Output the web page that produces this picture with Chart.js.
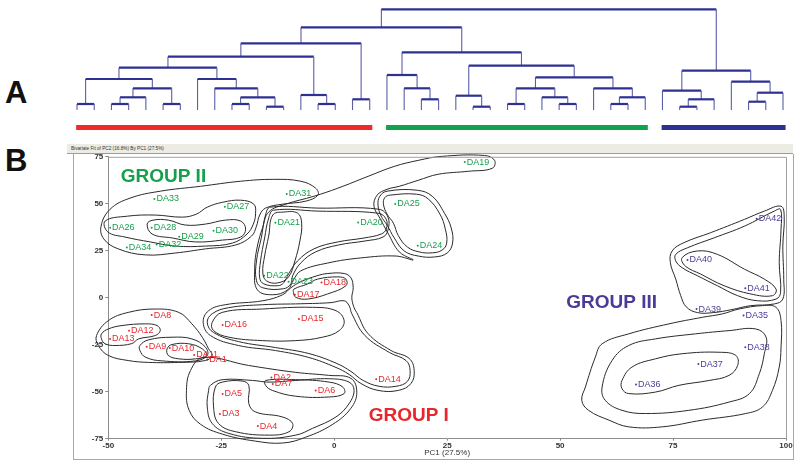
<!DOCTYPE html>
<html>
<head>
<meta charset="utf-8">
<script src="https://cdn.jsdelivr.net/npm/chart.js@4.4.1/dist/chart.umd.min.js"></script>
<style>
  html, body { margin: 0; padding: 0; background: #fff; }
  body { width: 800px; height: 467px; position: relative; overflow: hidden; font-family: Arial, "Liberation Sans", sans-serif; }
  .panel-letter { position: absolute; font-weight: bold; font-size: 31px; line-height: 30px; color: #111; }
  #titleBar { position: absolute; left: 67px; top: 144px; width: 726px; height: 9px; background: #ecebe4; border-bottom: 1px solid #9c9c9c; overflow: hidden; }
  #titleBar span { position: absolute; left: 4px; top: 0; font-size: 9px; line-height: 9px; color: #333; white-space: nowrap; transform: scale(0.52); transform-origin: left center; }
  #frame { position: absolute; left: 73px; top: 154px; width: 719px; height: 305px; border: 1px solid #a8a8a8; border-top: none; }
  canvas { position: absolute; }
</style>
</head>
<body>
<div class="panel-letter" style="left:5px; top:78px;">A</div>
<div class="panel-letter" style="left:5px; top:146px;">B</div>
<div id="titleBar"><span>Bivariate Fit of PC2 (16.8%) By PC1 (27.5%)</span></div>
<div id="frame"></div>
<canvas id="dendro" width="800" height="140" style="left:0; top:0;"></canvas>
<canvas id="pca" width="720" height="310" style="left:73px; top:150px;"></canvas>
<script>
// ---- dendrogram (panel A) ----
const leafCount = 42;
// [left child, right child, height]; ids >= 42 are earlier merges
const merges = [
  [0, 1, 6], [2, 3, 6], [43, 4, 12.7], [5, 6, 6], [44, 45, 21.7], [42, 46, 31],
  [9, 10, 6], [11, 12, 3.3], [48, 49, 12.7], [8, 50, 21.7], [7, 51, 31], [47, 52, 42.3],
  [14, 15, 6], [13, 54, 15], [53, 55, 53.3], [16, 17, 10.7], [56, 57, 66.7],
  [20, 21, 10.7], [19, 59, 21.7], [18, 60, 35], [23, 24, 3.3], [22, 62, 14.3],
  [25, 26, 6], [28, 29, 6], [27, 65, 12.7], [64, 66, 21.7], [31, 32, 6], [68, 33, 12.7],
  [30, 69, 21.7], [67, 70, 32.7], [63, 71, 44.3], [61, 72, 57.7], [58, 73, 82.7],
  [35, 36, 3.3], [75, 37, 10.7], [34, 76, 19.3], [39, 40, 8.3], [78, 41, 17.3],
  [38, 79, 28.3], [77, 80, 39.3], [74, 81, 100.7]
];
const groupSizes = [18, 16, 8];
const groupNames = ['GROUP I', 'GROUP II', 'GROUP III'];
const groupColors = ['#e8262c', '#17a04c', '#4b3b98'];
const barColors = ['#ee2b2b', '#12a24c', '#2e3192'];

// ---- PCA scores (panel B) ----
const pointNames = [
  'DA1', 'DA2', 'DA3', 'DA4', 'DA5', 'DA6', 'DA7', 'DA8', 'DA9', 'DA10', 'DA11', 'DA12', 'DA13', 'DA14',
  'DA15', 'DA16', 'DA17', 'DA18', 'DA19', 'DA20', 'DA21', 'DA22', 'DA23', 'DA24', 'DA25', 'DA26', 'DA27',
  'DA28', 'DA29', 'DA30', 'DA31', 'DA32', 'DA33', 'DA34', 'DA35', 'DA36', 'DA37', 'DA38', 'DA39', 'DA40',
  'DA41', 'DA42'
];
const pc1 = [
  -28.1, -13.9, -25.3, -16.9, -24.7, -4.1, -13.6, -40.4, -41.5, -36.4, -31.0, -45.4, -49.6, 9.3, -7.8, -24.7, -8.7, -2.8,
  28.9, 5.3, -13.0, -15.5, -10.1, 18.5, 13.5, -49.6, -24.2, -40.4, -34.3, -26.7, -10.5, -39.3, -39.8, -45.9,
  90.6, 66.8, 80.6, 91.0, 80.2, 78.2, 91.0, 93.5
];
const pc2 = [
  -32.8, -42.5, -61.8, -68.3, -51.2, -49.4, -45.9, -9.2, -26.1, -26.8, -30.4, -17.5, -21.9, -43.3, -11.3, -14.5, 1.6, 8.1,
  72.2, 40.1, 39.9, 11.7, 8.5, 27.7, 49.9, 37.2, 48.4, 37.2, 32.5, 35.6, 55.2, 28.4, 52.6, 26.7,
  -9.5, -46.1, -35.3, -26.3, -6.0, 20.1, 5.1, 42.0
];
const groupLabelAt = [[16.5, -62.8], [-37.8, 64.6], [61.4, -2.5]];

// density contours, [pc1, pc2] pairs
const g2Outer = [[-51.6,38.1],[-49.6,47.1],[-45.2,53.0],[-38.5,56.7],[-29.6,59.3],[-20.7,62.0],[-13.4,63.0],[-7.4,62.0],[-4.1,58.3],[-3.6,54.6],[-6.3,51.4],[-11.4,49.8],[-15.2,47.7],[-16.5,44.0],[-17.2,38.1],[-18.3,32.8],[-21.8,28.1],[-28.5,26.0],[-35.2,23.8],[-41.8,22.8],[-47.8,26.0],[-51.0,31.3]];
const g2Middle = [[-50.7,40.8],[-45.8,43.4],[-39.6,44.0],[-33.6,42.9],[-30.5,44.5],[-28.1,48.2],[-24.7,50.8],[-20.7,51.9],[-17.8,49.8],[-17.4,45.0],[-17.9,39.2],[-19.3,33.9],[-22.5,29.1],[-28.5,27.5],[-35.2,27.5],[-40.7,29.7],[-46.3,32.3],[-50.1,35.0]];
const g2Inner = [[-41.4,39.2],[-40.1,41.3],[-36.7,41.3],[-33.0,38.7],[-28.5,39.2],[-24.1,41.3],[-20.7,40.8],[-19.6,36.5],[-20.7,32.3],[-24.7,30.7],[-30.7,29.7],[-35.8,31.8],[-40.3,33.9]];
const da21Inner = [[-13.6,44.0],[-11.2,45.6],[-8.1,45.0],[-7.2,39.7],[-7.6,30.2],[-8.7,19.6],[-10.1,11.1],[-12.5,7.9],[-15.0,9.0],[-15.8,13.2],[-15.4,22.2],[-14.5,32.8]];
const da20Middle = [[-13.4,46.6],[-3.6,46.1],[9.7,45.0],[11.5,41.8],[11.5,36.5],[10.4,33.9],[6.6,31.8],[0.8,29.7],[-4.5,26.0],[-8.1,19.6],[-10.1,12.7],[-11.2,7.9],[-12.5,6.4],[-15.6,7.4],[-16.5,10.6],[-16.3,19.6],[-15.4,31.8],[-14.5,42.4]];
const da20Outer = [[-14.1,48.2],[-3.6,47.7],[9.9,47.1],[11.9,42.9],[11.9,36.0],[10.8,32.3],[6.8,30.2],[1.0,28.1],[-4.1,24.4],[-7.4,18.5],[-9.2,11.7],[-9.6,7.4],[-11.2,4.8],[-15.8,5.3],[-17.2,9.0],[-17.2,19.6],[-16.1,32.3],[-15.2,44.0]];
const centreOuter = [[-17.6,15.4],[-17.0,27.5],[-15.8,37.6],[-14.5,45.6],[-10.7,49.8],[-4.5,54.0],[0.8,58.3],[7.5,64.6],[13.3,69.9],[18.6,73.1],[23.7,75.2],[33.3,75.7],[35.5,73.1],[35.0,68.9],[29.7,67.3],[23.0,65.7],[18.6,62.5],[14.4,59.3],[11.7,57.7],[9.5,54.6],[8.8,48.7],[10.1,42.4],[11.9,34.4],[14.4,24.4],[17.5,20.1],[13.7,22.2],[5.9,21.2],[-1.4,18.5],[-7.4,14.3],[-9.0,9.5],[-10.3,4.2],[-13.6,1.6],[-17.0,4.2]];
const da25Middle = [[11.7,56.7],[18.4,57.2],[21.7,54.0],[24.4,45.0],[25.9,37.1],[26.2,29.1],[25.0,23.8],[22.2,21.7],[18.6,22.2],[15.5,24.9],[13.3,31.8],[11.7,38.7],[10.4,43.4],[9.7,49.3],[10.1,54.0]];
const da25Inner = [[12.4,54.6],[18.2,55.1],[20.8,52.6],[23.4,44.5],[24.6,36.5],[24.9,29.1],[23.9,25.4],[21.7,23.9],[18.8,24.4],[16.2,27.0],[14.2,33.0],[13.1,39.7],[11.7,44.5],[10.9,49.8],[11.2,53.3]];
const da17Inner = [[-9.0,2.8],[-8.5,0.2],[-5.9,-0.7],[-1.5,2.0],[2.6,6.4],[2.6,9.9],[0.8,11.1],[-3.7,9.9],[-5.9,7.3],[-8.9,4.6]];
const da15Inner = [[-27.0,-13.1],[-24.8,-7.8],[-15.9,-6.0],[-4.8,-5.1],[0.4,-6.9],[2.2,-12.2],[1.1,-17.5],[-2.6,-21.0],[-8.5,-22.8],[-15.9,-22.8],[-23.3,-21.0],[-26.7,-17.5]];
const g1UpperOuter = [[-29.0,-13.2],[-27.8,-6.9],[-24.1,-3.7],[-15.8,-1.6],[-11.4,1.6],[-9.6,5.3],[-7.4,8.5],[-3.8,11.7],[-1.4,12.9],[2.2,12.9],[3.7,10.6],[4.2,5.3],[3.9,0],[4.4,-5.3],[5.0,-7.9],[7.5,-19.1],[12.6,-28.1],[16.6,-32.3],[17.7,-38.7],[17.0,-45.6],[14.2,-49.3],[9.7,-49.3],[5.9,-45.6],[3.3,-40.8],[0.4,-37.1],[-5.6,-31.8],[-13.0,-28.1],[-21.2,-25.4],[-27.4,-20.1]];
const g1UpperMiddle = [[-28.1,-13.2],[-27.0,-8.5],[-23.4,-5.3],[-15.8,-3.7],[-7.4,-3.2],[-0.7,-2.6],[2.2,-1.6],[3.3,-4.2],[3.9,-8.5],[6.8,-20.1],[12.2,-29.1],[15.9,-33.4],[16.8,-38.7],[16.2,-44.5],[13.7,-47.1],[9.9,-47.1],[6.4,-44.0],[3.7,-39.2],[0.6,-35.0],[-5.6,-29.7],[-13.0,-26.5],[-21.2,-23.3],[-26.7,-18.5]];
const da8Outer = [[-52.6,-20.1],[-50.0,-12.2],[-45.6,-7.8],[-39.6,-6.0],[-34.4,-7.8],[-31.5,-13.9],[-29.2,-21.0],[-27.8,-27.2],[-27.0,-30.7],[-28.5,-33.4],[-34.4,-34.4],[-41.1,-34.4],[-45.6,-33.4],[-50.0,-30.7],[-52.2,-25.4]];
const da12Inner = [[-51.5,-19.2],[-50.0,-16.6],[-47.0,-14.8],[-41.8,-13.9],[-39.2,-14.8],[-38.5,-17.5],[-39.6,-20.1],[-43.3,-21.9],[-44.8,-24.4],[-48.5,-25.4],[-50.7,-24.5],[-51.5,-21.9]];
const da9Middle = [[-43.0,-25.4],[-41.1,-22.4],[-35.9,-21.0],[-31.5,-21.9],[-28.5,-26.3],[-28.1,-30.7],[-30.7,-33.6],[-38.1,-33.6],[-41.8,-31.6],[-43.0,-28.1]];
const da10Inner = [[-37.0,-27.2],[-35.9,-24.9],[-32.2,-24.5],[-29.2,-27.2],[-28.3,-30.7],[-30.7,-32.5],[-34.4,-32.5],[-36.7,-30.7]];
const g1LowerOuter = [[-29.0,-31.8],[-19.0,-36.0],[-8.5,-39.7],[-1.2,-41.3],[3.7,-42.9],[5.0,-50.3],[3.7,-58.8],[-0.3,-67.3],[-6.3,-74.2],[-11.4,-77.3],[-17.4,-76.3],[-24.7,-72.6],[-29.6,-67.3],[-32.1,-59.9],[-32.7,-49.3],[-31.8,-38.7]];
const g1LowerMiddle = [[-27.4,-46.6],[-24.8,-43.6],[-18.1,-44.0],[-14.4,-44.9],[-8.5,-44.0],[-1.1,-43.1],[3.3,-44.9],[4.4,-49.3],[3.3,-56.3],[0.4,-63.4],[-4.8,-69.5],[-8.5,-73.1],[-15.9,-74.8],[-23.3,-72.2],[-27.0,-66.9],[-28.1,-58.1],[-27.8,-49.3]];
const da5Inner = [[-26.3,-47.5],[-24.8,-44.9],[-20.4,-44.3],[-18.9,-46.6],[-18.9,-56.3],[-17.4,-60.8],[-11.5,-63.4],[-9.2,-66.9],[-10.0,-71.3],[-14.4,-73.1],[-21.8,-71.3],[-25.6,-66.9],[-26.7,-58.1]];
const da2Inner = [[-15.2,-44.0],[-8.5,-43.6],[-1.1,-44.9],[1.9,-47.5],[2.2,-51.0],[-1.1,-52.8],[-8.5,-52.4],[-13.7,-49.3],[-15.2,-46.6]];
const g3TopOuter = [[74.8,24.9],[77.4,29.3],[83.3,34.6],[90.8,41.7],[95.2,46.1],[98.9,48.7],[99.6,43.4],[99.3,27.5],[99.5,9.9],[99.3,-0.7],[97.4,-3.3],[92.2,-4.2],[87.8,-6.4],[83.9,-7.9],[80.4,-7.9],[77.9,-4.8],[76.7,1.1],[75.6,9.9],[74.4,18.7]];
const g3TopMiddle = [[75.6,23.1],[78.2,26.6],[84.1,31.9],[90.8,38.1],[97.4,46.1],[98.8,47.0],[98.9,36.4],[98.5,18.7],[98.8,2.8],[97.8,-0.7],[93.7,-1.6],[89.3,1.1],[84.8,6.4],[80.4,11.7],[77.0,16.0],[75.6,19.6]];
const g3TopInner = [[77.0,21.3],[80.4,24.9],[84.8,23.1],[90.8,15.2],[95.2,9.9],[97.8,4.6],[97.0,1.1],[92.2,2.0],[86.3,6.4],[81.1,12.6],[77.7,16.9]];
const g3LowOuter = [[54.8,-54.6],[55.6,-47.5],[57.8,-31.6],[59.3,-24.5],[65.2,-19.2],[74.1,-13.9],[81.5,-10.4],[85.9,-8.6],[89.6,-6.0],[94.8,-4.2],[97.8,-5.1],[98.9,-12.2],[98.9,-26.3],[98.5,-36.9],[97.0,-49.3],[94.8,-58.1],[91.1,-61.6],[81.5,-65.1],[72.6,-68.7],[65.2,-68.7],[60.8,-65.1],[56.3,-59.9]];
const g3LowMiddle = [[59.3,-47.5],[61.5,-33.4],[65.2,-25.4],[71.1,-21.9],[80.0,-19.2],[87.4,-17.5],[93.3,-16.6],[95.6,-21.0],[95.2,-29.8],[94.1,-40.4],[91.9,-51.0],[87.4,-55.5],[78.5,-59.9],[68.9,-61.6],[63.7,-59.9],[60.0,-54.6]];
const g3LowInner = [[63.7,-44.0],[65.9,-36.9],[71.1,-32.5],[77.0,-29.8],[85.2,-29.0],[88.9,-30.7],[89.3,-36.0],[87.4,-41.3],[83.0,-44.0],[76.3,-46.6],[71.1,-50.2],[65.2,-51.0],[63.7,-48.4]];

const contours = [
  g2Outer, g2Middle, g2Inner,
  da21Inner, da20Middle, da20Outer, centreOuter, da25Middle, da25Inner,
  da17Inner, da15Inner, g1UpperOuter, g1UpperMiddle,
  da8Outer, da12Inner, da9Middle, da10Inner,
  g1LowerOuter, g1LowerMiddle, da5Inner, da2Inner,
  g3TopOuter, g3TopMiddle, g3TopInner, g3LowOuter, g3LowMiddle, g3LowInner
];

const fontFamily = 'Arial, "Liberation Sans", sans-serif';

// ---------- Panel A: dendrogram ----------
const nodeX = [];
const nodeH = [];
for (let i = 0; i < leafCount; i++) { nodeX.push(i); nodeH.push(0); }

const treeSets = merges.map(([a, b, h]) => {
  const set = {
    data: [
      { x: nodeX[a], y: nodeH[a] },
      { x: nodeX[a], y: h },
      { x: nodeX[b], y: h },
      { x: nodeX[b], y: nodeH[b] }
    ],
    showLine: true,
    pointRadius: 0,
    borderColor: '#2e3192',
    borderWidth: 2,
    tension: 0,
    clip: false,
    segment: {
      // horizontal links heavier than the vertical ones
      borderWidth: c => Math.abs(c.p0.y - c.p1.y) < 0.5 ? 2.2 : 1.1,
      borderColor: c => Math.abs(c.p0.y - c.p1.y) < 0.5 ? '#2e3192' : '#5a5ea8'
    }
  };
  nodeX.push((nodeX[a] + nodeX[b]) / 2);
  nodeH.push(h);
  return set;
});

const barLevel = -17.5;
let firstLeaf = 0;
const barSets = groupSizes.map((n, g) => {
  const set = {
    data: [{ x: firstLeaf - 0.05, y: barLevel }, { x: firstLeaf + n - 1 + 0.15, y: barLevel }],
    showLine: true,
    pointRadius: 0,
    borderColor: barColors[g],
    borderWidth: 5,
    clip: false
  };
  firstLeaf += n;
  return set;
});

new Chart(document.getElementById('dendro'), {
  type: 'scatter',
  data: { datasets: [...treeSets, ...barSets] },
  options: {
    responsive: false,
    animation: false,
    events: [],
    layout: { padding: { left: 77, right: 17, top: 9.3, bottom: 30 } },
    plugins: { legend: { display: false }, tooltip: { enabled: false } },
    scales: {
      x: { type: 'linear', min: 0, max: leafCount - 1, display: false },
      y: { min: 0, max: 100.7, display: false }
    }
  }
});

// ---------- Panel B: PCA biplot with contours ----------
// wrap each ring with its neighbours so the smoothed curve closes without a kink;
// the two helper segments at the ends are left invisible
const ring = pts => {
  const n = pts.length;
  return [pts[n - 1], ...pts, pts[0], pts[1]].map(([x, y]) => ({ x, y }));
};

const contourSets = contours.map(pts => {
  const n = pts.length;
  return {
    data: ring(pts),
    showLine: true,
    pointRadius: 0,
    borderColor: '#2a2a2a',
    borderWidth: 1,
    tension: 0.4,
    clip: false,
    segment: {
      borderColor: c => (c.p0DataIndex === 0 || c.p0DataIndex === n + 1) ? 'rgba(0,0,0,0)' : '#2a2a2a'
    }
  };
});

let offset = 0;
const pointSets = groupSizes.map((n, g) => {
  const data = [];
  for (let i = offset; i < offset + n; i++) data.push({ x: pc1[i], y: pc2[i] });
  offset += n;
  return {
    data,
    pointRadius: 1,
    pointBorderWidth: 0,
    pointBackgroundColor: groupColors[g],
    clip: false
  };
});

function groupOf(i) {
  let acc = 0;
  for (let g = 0; g < groupSizes.length; g++) {
    acc += groupSizes[g];
    if (i < acc) return g;
  }
  return groupSizes.length - 1;
}

const pcaDecor = {
  id: 'pcaDecor',
  afterDatasetsDraw(chart) {
    const { ctx, chartArea } = chart;
    const xs = chart.scales.x;
    const ys = chart.scales.y;
    ctx.save();
    // top and right edges of the plot box
    ctx.strokeStyle = '#a0a0a0';
    ctx.lineWidth = 1;
    ctx.beginPath();
    ctx.moveTo(chartArea.left, chartArea.top + 0.5);
    ctx.lineTo(chartArea.right + 0.5, chartArea.top + 0.5);
    ctx.lineTo(chartArea.right + 0.5, chartArea.bottom);
    ctx.stroke();

    // sample labels
    ctx.font = '9px ' + fontFamily;
    ctx.textBaseline = 'middle';
    ctx.textAlign = 'left';
    pointNames.forEach((name, i) => {
      ctx.fillStyle = groupColors[groupOf(i)];
      ctx.fillText(name, xs.getPixelForValue(pc1[i]) + 2, ys.getPixelForValue(pc2[i]));
    });

    // group titles
    ctx.font = 'bold 19px ' + fontFamily;
    ctx.textAlign = 'center';
    groupNames.forEach((name, g) => {
      ctx.fillStyle = groupColors[g];
      ctx.fillText(name, xs.getPixelForValue(groupLabelAt[g][0]), ys.getPixelForValue(groupLabelAt[g][1]));
    });
    ctx.restore();
  }
};

new Chart(document.getElementById('pca'), {
  type: 'scatter',
  data: { datasets: [...contourSets, ...pointSets] },
  options: {
    responsive: false,
    animation: false,
    events: [],
    layout: { padding: { top: 5.7, right: 7, left: 0, bottom: 0 } },
    elements: { line: { capBezierPoints: false } },
    plugins: { legend: { display: false }, tooltip: { enabled: false } },
    scales: {
      x: {
        type: 'linear',
        min: -50,
        max: 100,
        ticks: { stepSize: 25, padding: 0, color: '#333', font: { size: 8, weight: 'bold', family: fontFamily } },
        grid: { drawOnChartArea: false, tickLength: 2, color: '#888' },
        border: { color: '#8c8c8c' },
        title: { display: true, text: 'PC1 (27.5%)', color: '#333', padding: { top: 0, bottom: 2 }, font: { size: 8, family: fontFamily } },
        afterFit: s => { s.height = 21.3; }
      },
      y: {
        type: 'linear',
        min: -75,
        max: 75,
        ticks: { stepSize: 25, padding: 2, color: '#333', font: { size: 8, weight: 'bold', family: fontFamily } },
        grid: { drawOnChartArea: false, tickLength: 3, color: '#888' },
        border: { color: '#8c8c8c' },
        afterFit: s => { s.width = 35.3; }
      }
    }
  },
  plugins: [pcaDecor]
});
</script>
</body>
</html>
